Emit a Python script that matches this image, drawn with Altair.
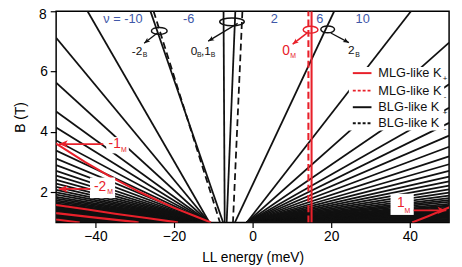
import altair as alt
import pandas as pd

# ---------------- values ----------------
x_ticks = [-40, -20, 0, 20, 40]
y_ticks = [2, 4, 6, 8]

# BLG-like hole fan: lines from the meeting point to the left edge (E=-50) / top edge (B=8)
left_origin = [-11.0, 1.0]
left_top_E = [-42.0]
left_edge_B = [7.12, 5.63, 4.68, 4.15, 3.72, 3.38, 3.12, 2.90, 2.71, 2.55, 2.41, 2.29,
               2.18, 2.08, 2.00, 1.92, 1.85, 1.79, 1.73, 1.68, 1.63, 1.59, 1.55, 1.51,
               1.48, 1.45, 1.42, 1.39, 1.36, 1.33, 1.30, 1.27, 1.24, 1.21, 1.18, 1.15,
               1.12, 1.09, 1.06, 1.03]
# BLG-like electron fan
right_origin = [-1.5, 1.0]
right_top_E = [40.3]
right_edge_B = [6.96, 5.58, 4.80, 4.30, 3.88, 3.51, 3.19, 2.93, 2.71, 2.52, 2.36, 2.22,
                2.10, 1.99, 1.89, 1.81, 1.74, 1.68, 1.62, 1.57, 1.53, 1.49, 1.45, 1.42,
                1.39, 1.36, 1.33, 1.30, 1.27, 1.24, 1.21, 1.18, 1.15, 1.12, 1.09, 1.06,
                1.03]

# single BLG-like levels (E, B) vertices
blg_solid = {
    "-2B+": [(-26.0, 8.0), (-7.5, 1.0)],
    "0B+": [(-7.4, 8.0), (-7.1, 1.0)],
    "1B+": [(-4.4, 8.0), (-6.6, 1.0)],
    "2B+": [(20.75, 8.0), (-4.5, 1.0)],
}
blg_dashed = {
    "-2B-": [(-25.2, 8.0), (-8.3, 1.0)],
    "01B-": [(-2.6, 8.0), (-5.0, 1.0)],
}
# MLG-like levels
mlg_solid = {
    "0M+": [(15.0, 1.0), (15.0, 8.0)],
    "-1M": [(-51.0, 3.68), (-50.0, 3.61), (-42.6, 3.0), (-36.0, 2.5), (-28.6, 2.0),
            (-20.3, 1.5), (-14.4, 1.2), (-10.6, 1.0)],
    "-2M": [(-51.0, 1.60), (-50.0, 1.58), (-42.0, 1.43), (-35.0, 1.29), (-27.0, 1.15),
            (-20.0, 1.02), (-19.0, 1.0)],
    "-3M": [(-51.0, 1.33), (-50.0, 1.31), (-40.0, 1.16), (-30.0, 1.02), (-29.0, 1.0)],
    "-4M": [(-51.0, 1.12), (-50.0, 1.10), (-44.0, 1.0)],
    "1M": [(40.6, 1.0), (44.5, 1.2), (49.5, 1.47), (51.0, 1.55)],
}
mlg_dashed = {
    "0M-": [(14.2, 1.0), (14.2, 8.0)],
}

nu_text = ["ν = -10", "-6", "2", "6", "10"]
nu_E = [-33.0, -16.25, 5.5, 17.1, 28.0]
nu_B = [7.73, 7.73, 7.73, 7.73, 7.73]

legend_text = ["MLG-like K", "MLG-like K", "BLG-like K", "BLG-like K"]
legend_sub = ["+", "-", "+", "-"]
legend_B = [5.95, 5.37, 4.82, 4.29]

RED = "#e8202a"
BLUE = "#4058a8"
BLACK = "#111111"
FONT = "Liberation Sans"

# ---------------- tables ----------------
def add_line(rows, lid, pts):
    for i, (e, b) in enumerate(pts):
        rows.append({"id": lid, "E": e, "B": b, "o": i})

fan_rows = []
for i, b in enumerate(left_edge_B):
    add_line(fan_rows, f"L{i}", [tuple(left_origin), (-50.0, b)])
for i, e in enumerate(left_top_E):
    add_line(fan_rows, f"LT{i}", [tuple(left_origin), (e, 8.0)])
for i, b in enumerate(right_edge_B):
    add_line(fan_rows, f"R{i}", [tuple(right_origin), (50.0, b)])
for i, e in enumerate(right_top_E):
    add_line(fan_rows, f"RT{i}", [tuple(right_origin), (e, 8.0)])
for k, v in blg_solid.items():
    add_line(fan_rows, k, v)
fan_df = pd.DataFrame(fan_rows)

bd_rows = []
for k, v in blg_dashed.items():
    add_line(bd_rows, k, v)
bd_df = pd.DataFrame(bd_rows)

ms_rows = []
for k, v in mlg_solid.items():
    add_line(ms_rows, k, v)
ms_df = pd.DataFrame(ms_rows)

md_rows = []
for k, v in mlg_dashed.items():
    add_line(md_rows, k, v)
md_df = pd.DataFrame(md_rows)

xaxis = alt.Axis(values=x_ticks, title="LL energy (meV)", grid=False, domain=False,
                 tickSize=5, tickColor="black", tickWidth=1.2, labelPadding=2,
                 titlePadding=8)
yaxis = alt.Axis(values=y_ticks, title="B (T)", grid=False, domain=False,
                 tickSize=6, tickColor="black", tickWidth=1.2, labelPadding=3,
                 titlePadding=12, labelExpr="datum.value == 8 ? '' : datum.label")
xs = alt.Scale(domain=[-50, 50], nice=False, zero=False)
ys = alt.Scale(domain=[1, 8], nice=False, zero=False)

def X(f="E"):
    return alt.X(f"{f}:Q", scale=xs, axis=xaxis)

def Y(f="B"):
    return alt.Y(f"{f}:Q", scale=ys, axis=yaxis)

def lines(df, color, width, dash=None):
    kw = dict(clip=True, color=color, strokeWidth=width)
    if dash:
        kw["strokeDash"] = dash
    return alt.Chart(df).mark_line(**kw).encode(
        x=X(), y=Y(), detail="id:N", order="o:Q")

layers = [
    lines(fan_df, BLACK, 1.8),
    lines(bd_df, BLACK, 1.8, [7, 4]),
    lines(ms_df, RED, 2.1),
    lines(md_df, RED, 2.1, [7, 3.5]),
]

# top "8" tick label (kept inside the page)
top_lab = pd.DataFrame({"t": ["8"], "E": [-53.4], "B": [7.86]})
layers.append(alt.Chart(top_lab).mark_text(baseline="middle", fontSize=14, font=FONT,
                                           color="black").encode(x=X(), y=Y(), text="t:N"))

# white boxes (legend, red labels)
boxes = pd.DataFrame({
    "E": [24.5, -37.25, -41.4, 35.1],
    "E2": [48.75, -31.5, -35.0, 41.0],
    "B": [6.15, 3.83, 2.49, 1.95],
    "B2": [4.05, 3.29, 1.81, 1.25],
})
layers.append(alt.Chart(boxes).mark_rect(color="white").encode(
    x=X(), x2="E2:Q", y=Y(), y2="B2:Q"))

# legend symbols
leg = pd.DataFrame({"E": [25.5] * 4, "E2": [30.25] * 4, "B": legend_B, "B2": legend_B,
                    "c": [RED, RED, BLACK, BLACK]})
layers.append(alt.Chart(leg.iloc[[0, 2]]).mark_rule(strokeWidth=2).encode(
    x=X(), x2="E2:Q", y=Y(), y2="B2:Q", color=alt.Color("c:N", scale=None)))
layers.append(alt.Chart(leg.iloc[[1, 3]]).mark_rule(strokeWidth=2, strokeDash=[3, 2]).encode(
    x=X(), x2="E2:Q", y=Y(), y2="B2:Q", color=alt.Color("c:N", scale=None)))
legt = pd.DataFrame({"t": legend_text, "E": [32.0] * 4, "B": legend_B})
layers.append(alt.Chart(legt).mark_text(align="left", baseline="middle", fontSize=13,
                                        font=FONT, color=BLACK).encode(
    x=X(), y=Y(), text="t:N"))
legs = pd.DataFrame({"t": legend_sub, "E": [49.0] * 4, "B": [b - 0.2 for b in legend_B]})
layers.append(alt.Chart(legs).mark_text(align="center", baseline="middle", fontSize=8,
                                        font=FONT, color=BLACK).encode(
    x=X(), y=Y(), text="t:N"))

# filling factor labels
nu = pd.DataFrame({"t": nu_text, "E": nu_E, "B": nu_B})
layers.append(alt.Chart(nu).mark_text(baseline="middle", fontSize=13, font=FONT,
                                      color=BLUE).encode(x=X(), y=Y(), text="t:N"))

# level labels with subscripts
lab = pd.DataFrame({
    "t": ["-2", "0", ",1", "2", "0", "-1", "-2", "1"],
    "E": [-29.4, -14.9, -11.9, 25.1, 8.5, -35.1, -38.8, 37.75],
    "B": [6.68, 6.68, 6.68, 6.71, 6.69, 3.60, 2.18, 1.63],
    "s": [12, 12, 12, 12, 14, 14, 14, 14],
    "c": [BLACK, BLACK, BLACK, BLACK, RED, RED, RED, RED],
})
layers.append(alt.Chart(lab).mark_text(baseline="middle", font=FONT).encode(
    x=X(), y=Y(), text="t:N", size=alt.Size("s:Q", scale=None),
    color=alt.Color("c:N", scale=None)))
sub = pd.DataFrame({
    "t": ["B", "B", "B", "B", "M", "M", "M", "M"],
    "E": [-27.4, -13.6, -10.1, 26.7, 10.3, -32.75, -36.25, 39.4],
    "B": [6.55, 6.55, 6.55, 6.56, 6.53, 3.41, 2.0, 1.39],
    "c": [BLACK, BLACK, BLACK, BLACK, RED, RED, RED, RED],
})
layers.append(alt.Chart(sub).mark_text(baseline="middle", font=FONT, fontSize=7).encode(
    x=X(), y=Y(), text="t:N", color=alt.Color("c:N", scale=None)))

# ellipses
ells = [(-23.75, 7.35, 16, 0.44, BLACK), (-5.25, 7.65, 25, 0.32, BLACK),
        (14.75, 7.39, 15, 0.47, RED), (19.1, 7.4, 14, 0.5, BLACK)]
for (e, b, w, r, c) in ells:
    shape = f"M-1,0A1,{r},0,1,0,1,0A1,{r},0,1,0,-1,0Z"
    layers.append(alt.Chart(pd.DataFrame({"E": [e], "B": [b]})).mark_point(
        shape=shape, filled=False, size=w * w, strokeWidth=1.5, color=c, opacity=1).encode(
        x=X(), y=Y()))

# arrows
arr = pd.DataFrame({
    "E": [-24.25, -3.8, 13.9, 19.9, -38.0, -41.3, 41.0],
    "B": [7.28, 7.6, 7.28, 7.28, 3.6, 2.11, 1.40],
    "E2": [-27.6, -11.3, 10.2, 24.5, -49.3, -49.3, 49.3],
    "B2": [6.94, 7.01, 6.91, 6.96, 3.6, 2.11, 1.40],
    "ang": [232, 239, 232, 119, 270, 270, 90],
    "c": [BLACK, BLACK, RED, BLACK, RED, RED, RED],
    "w": [1.3, 1.3, 1.6, 1.3, 1.8, 1.8, 1.8],
})
layers.append(alt.Chart(arr).mark_rule().encode(
    x=X(), y=Y(), x2="E2:Q", y2="B2:Q", color=alt.Color("c:N", scale=None),
    strokeWidth=alt.StrokeWidth("w:Q", scale=None)))
head = "M0,0L0.75,1.8L0,1.35L-0.75,1.8Z"
small = arr.iloc[:4]
big = arr.iloc[4:]
layers.append(alt.Chart(small).mark_point(shape=head, filled=True, size=44, opacity=1).encode(
    x=X("E2"), y=Y("B2"), angle=alt.Angle("ang:Q", scale=None),
    color=alt.Color("c:N", scale=None)))
layers.append(alt.Chart(big).mark_point(shape=head, filled=True, size=100, opacity=1).encode(
    x=X("E2"), y=Y("B2"), angle=alt.Angle("ang:Q", scale=None),
    color=alt.Color("c:N", scale=None)))

chart = alt.layer(*layers).properties(
    width=400, height=215,
    autosize=alt.AutoSizeParams(type="none"),
    padding={"left": 49, "top": 1, "right": 5, "bottom": 43},
).configure_view(stroke="black", strokeWidth=1.5).configure_axis(
    labelFont=FONT, titleFont=FONT, labelFontSize=14, titleFontSize=14,
    titleFontWeight="normal", labelColor="black", titleColor="black")

chart.save("out.html", embed_options={"renderer": "svg", "actions": False})
